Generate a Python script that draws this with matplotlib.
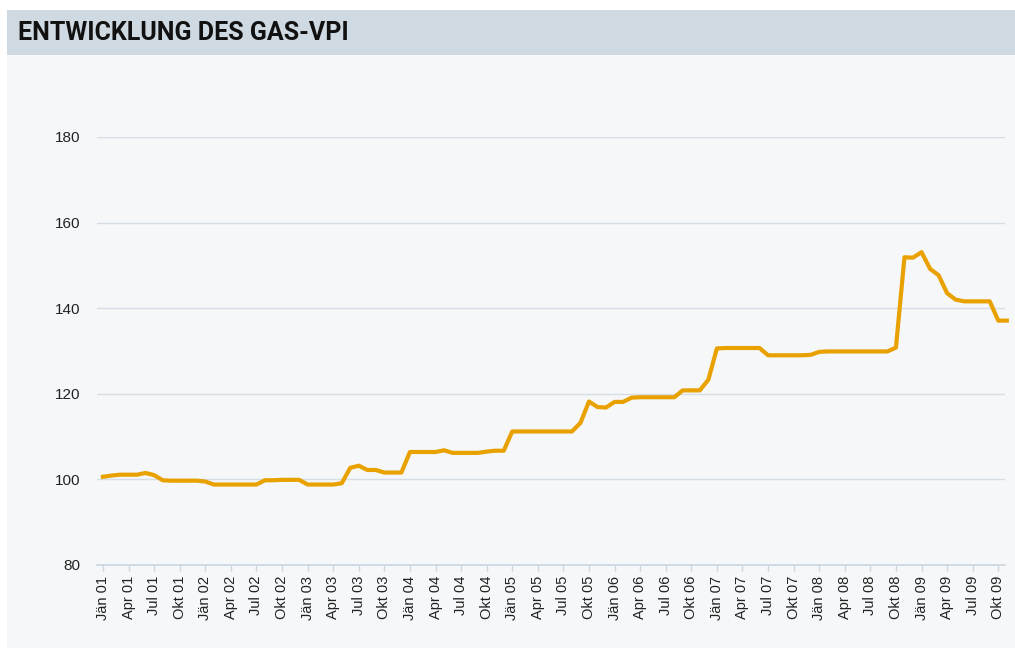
import numpy as np
import matplotlib
matplotlib.use("Agg")
import matplotlib.pyplot as plt
from matplotlib.patches import Rectangle

# Gas-VPI, monthly, Jän 01 .. Nov 09
years = ["01", "02", "03", "04", "05", "06", "07", "08", "09"]
month_names = ["Jän", "Apr", "Jul", "Okt"]

vpi = [
    # 2001
    100.6, 100.9, 101.1, 101.1, 101.1, 101.5, 101.0, 99.8, 99.7, 99.7, 99.7, 99.7,
    # 2002
    99.5, 98.8, 98.8, 98.8, 98.8, 98.8, 98.8, 99.8, 99.8, 99.9, 99.9, 99.9,
    # 2003
    98.8, 98.8, 98.8, 98.8, 99.1, 102.7, 103.2, 102.2, 102.2, 101.6, 101.6, 101.6,
    # 2004
    106.4, 106.4, 106.4, 106.4, 106.8, 106.2, 106.2, 106.2, 106.2, 106.5, 106.7, 106.7,
    # 2005
    111.2, 111.2, 111.2, 111.2, 111.2, 111.2, 111.2, 111.2, 113.2, 118.2, 116.9, 116.8,
    # 2006
    118.1, 118.1, 119.1, 119.2, 119.2, 119.2, 119.2, 119.2, 120.8, 120.8, 120.8, 123.3,
    # 2007
    130.6, 130.7, 130.7, 130.7, 130.7, 130.7, 129.0, 129.0, 129.0, 129.0, 129.0, 129.1,
    # 2008
    129.8, 129.9, 129.9, 129.9, 129.9, 129.9, 129.9, 129.9, 129.9, 130.8, 151.9, 151.8,
    # 2009
    153.1, 149.2, 147.7, 143.5, 142.0, 141.6, 141.6, 141.6, 141.6, 137.1, 137.1,
]

tick_labels = [f"{m} {y}" for y in years for m in month_names]

W, H = 1015, 648
fig = plt.figure(figsize=(W / 100, H / 100), dpi=100)
fig.patch.set_facecolor("white")

# page background and header band
fig.patches.append(Rectangle((7 / W, 0), 1 - 7 / W, 1 - 55 / H, transform=fig.transFigure,
                             facecolor="#F5F7F9", edgecolor="none", zorder=-10))
fig.patches.append(Rectangle((7 / W, 1 - 55 / H), 1 - 7 / W, 45 / H, transform=fig.transFigure,
                             facecolor="#CFD9E2", edgecolor="none", zorder=-10))
fig.text(18 / W, 1 - 33 / H, "ENTWICKLUNG DES GAS-VPI", fontsize=18, fontweight="bold",
         family=["Roboto", "DejaVu Sans"], color="#111111", va="center", ha="left")

left, right = 97, 1005
bottom, top = 565, 137
ax = fig.add_axes([left / W, 1 - bottom / H, (right - left) / W, (bottom - top) / H])
ax.set_facecolor("none")

x = np.arange(len(vpi))
ax.plot(x, vpi, color="#E9A100", lw=3, solid_joinstyle="round", clip_on=False, zorder=3)

ax.set_xlim(-0.70, 105.79)
ax.set_ylim(80, 180)
ax.set_yticks([80, 100, 120, 140, 160, 180])
ax.yaxis.grid(True, color="#D5DEE6", lw=1)
ax.set_axisbelow(True)

ax.set_xticks(np.arange(0, len(vpi), 3))
ax.set_xticklabels(tick_labels[:len(range(0, len(vpi), 3))], rotation=90)

for s in ["top", "right", "left"]:
    ax.spines[s].set_visible(False)
ax.spines["bottom"].set_color("#CBD6E0")
ax.spines["bottom"].set_linewidth(1.2)

ax.tick_params(axis="y", length=0, pad=12, labelsize=11, labelcolor="#222222")
ax.tick_params(axis="x", length=4, width=1, color="#CBD6E0", pad=4, labelsize=10.5,
               labelcolor="#222222")
for lab in ax.get_xticklabels() + ax.get_yticklabels():
    lab.set_family(["Liberation Sans", "DejaVu Sans"])

fig.savefig("out.png", dpi=100)
